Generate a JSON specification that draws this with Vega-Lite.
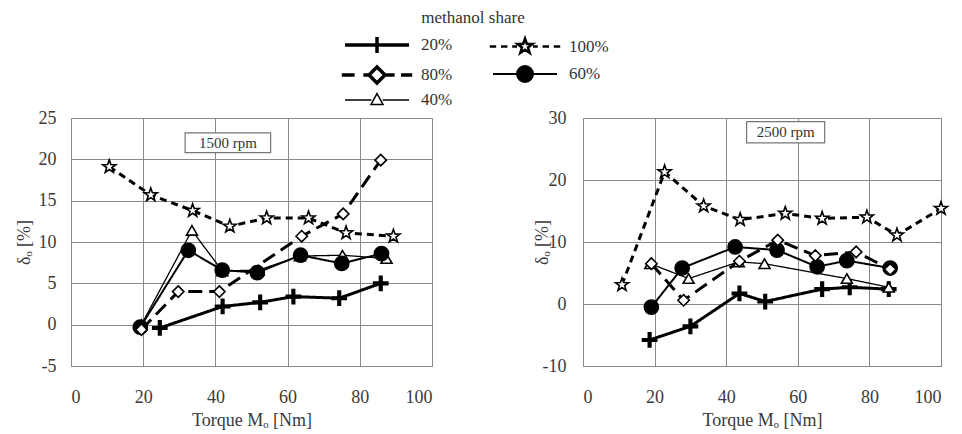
{
  "$schema": "https://vega.github.io/schema/vega-lite/v6.json",
  "autosize": {"type": "pad"},
  "padding": {"left": 14, "top": 9, "right": 0, "bottom": 0},
  "background": "white",
  "bounds": "flush",
  "spacing": 151,
  "config": {
    "font": "Liberation Serif",
    "view": {"stroke": "#888888", "strokeWidth": 1},
    "axis": {
      "labelFont": "Liberation Serif",
      "titleFont": "Liberation Serif",
      "labelFontSize": 18,
      "titleFontSize": 18,
      "labelColor": "#3a3a3a",
      "titleColor": "#3a3a3a",
      "titleFontWeight": "normal",
      "ticks": false,
      "domain": false,
      "gridColor": "#888888",
      "gridOpacity": 1,
      "gridWidth": 1
    },
    "legend": {
      "labelFont": "Liberation Serif",
      "titleFont": "Liberation Serif"
    }
  },
  "resolve": {"scale": {"shape": "independent", "fill": "independent", "stroke": "independent", "strokeWidth": "independent", "size": "independent", "strokeDash": "independent"}},
  "datasets": {
    "d1500": [
      {"share": "20%", "torque": 24.6, "delta": -0.4},
      {"share": "20%", "torque": 42.0, "delta": 2.2},
      {"share": "20%", "torque": 52.4, "delta": 2.7},
      {"share": "20%", "torque": 61.6, "delta": 3.4},
      {"share": "20%", "torque": 74.3, "delta": 3.2},
      {"share": "20%", "torque": 85.8, "delta": 5.0},
      {"share": "40%", "torque": 19.5, "delta": 0.0},
      {"share": "40%", "torque": 33.5, "delta": 11.4},
      {"share": "40%", "torque": 41.9, "delta": 6.5},
      {"share": "40%", "torque": 52.0, "delta": 6.6},
      {"share": "40%", "torque": 63.4, "delta": 8.3},
      {"share": "40%", "torque": 75.2, "delta": 8.4},
      {"share": "40%", "torque": 87.4, "delta": 8.0},
      {"share": "60%", "torque": 19.2, "delta": -0.3},
      {"share": "60%", "torque": 32.5, "delta": 9.0},
      {"share": "60%", "torque": 41.9, "delta": 6.6},
      {"share": "60%", "torque": 51.6, "delta": 6.3},
      {"share": "60%", "torque": 63.6, "delta": 8.4},
      {"share": "60%", "torque": 75.0, "delta": 7.4},
      {"share": "60%", "torque": 86.0, "delta": 8.6},
      {"share": "80%", "torque": 19.5, "delta": -0.6},
      {"share": "80%", "torque": 29.7, "delta": 4.0},
      {"share": "80%", "torque": 41.1, "delta": 4.0},
      {"share": "80%", "torque": 63.9, "delta": 10.7},
      {"share": "80%", "torque": 75.4, "delta": 13.4},
      {"share": "80%", "torque": 85.8, "delta": 19.9},
      {"share": "100%", "torque": 10.6, "delta": 19.1},
      {"share": "100%", "torque": 22.1, "delta": 15.7},
      {"share": "100%", "torque": 33.7, "delta": 13.8},
      {"share": "100%", "torque": 44.0, "delta": 11.9},
      {"share": "100%", "torque": 54.2, "delta": 12.9},
      {"share": "100%", "torque": 65.8, "delta": 12.9},
      {"share": "100%", "torque": 76.2, "delta": 11.1},
      {"share": "100%", "torque": 89.3, "delta": 10.7}
    ],
    "d2500": [
      {"share": "20%", "torque": 18.6, "delta": -5.8},
      {"share": "20%", "torque": 30.0, "delta": -3.6},
      {"share": "20%", "torque": 43.7, "delta": 1.7},
      {"share": "20%", "torque": 50.9, "delta": 0.4},
      {"share": "20%", "torque": 66.8, "delta": 2.4},
      {"share": "20%", "torque": 74.5, "delta": 2.7},
      {"share": "20%", "torque": 85.4, "delta": 2.4},
      {"share": "40%", "torque": 18.8, "delta": 6.5},
      {"share": "40%", "torque": 29.5, "delta": 4.1},
      {"share": "40%", "torque": 43.5, "delta": 6.8},
      {"share": "40%", "torque": 50.7, "delta": 6.5},
      {"share": "40%", "torque": 73.7, "delta": 4.1},
      {"share": "40%", "torque": 85.4, "delta": 2.7},
      {"share": "60%", "torque": 19.1, "delta": -0.5},
      {"share": "60%", "torque": 27.7, "delta": 5.8},
      {"share": "60%", "torque": 42.5, "delta": 9.2},
      {"share": "60%", "torque": 54.2, "delta": 8.7},
      {"share": "60%", "torque": 65.4, "delta": 6.0},
      {"share": "60%", "torque": 73.7, "delta": 7.0},
      {"share": "60%", "torque": 85.8, "delta": 5.8},
      {"share": "80%", "torque": 19.1, "delta": 6.5},
      {"share": "80%", "torque": 28.1, "delta": 0.6},
      {"share": "80%", "torque": 43.7, "delta": 6.9},
      {"share": "80%", "torque": 54.4, "delta": 10.3},
      {"share": "80%", "torque": 64.9, "delta": 7.8},
      {"share": "80%", "torque": 76.3, "delta": 8.4},
      {"share": "80%", "torque": 85.8, "delta": 5.6},
      {"share": "100%", "torque": 10.9, "delta": 3.1},
      {"share": "100%", "torque": 22.8, "delta": 21.3},
      {"share": "100%", "torque": 33.7, "delta": 15.8},
      {"share": "100%", "torque": 43.9, "delta": 13.6},
      {"share": "100%", "torque": 56.5, "delta": 14.6},
      {"share": "100%", "torque": 66.8, "delta": 13.8},
      {"share": "100%", "torque": 79.3, "delta": 14.0},
      {"share": "100%", "torque": 87.7, "delta": 11.1},
      {"share": "100%", "torque": 100.0, "delta": 15.4}
    ]
  },
  "hconcat": [
    {
      "width": 361,
      "height": 248,
      "resolve": {"scale": {"shape": "independent", "fill": "independent", "stroke": "independent", "strokeWidth": "independent", "size": "independent", "strokeDash": "independent"}},
      "layer": [
        {
          "data": {"values": [{"x1": 31.6, "x2": 55.3, "y1": 20.8, "y2": 23.2}]},
          "mark": {"type": "rect", "fill": "white", "stroke": "#777777", "strokeWidth": 1.2},
          "encoding": {
            "x": {"field": "x1", "type": "quantitative", "scale": {"domain": [0, 100], "nice": false}},
            "x2": {"field": "x2"},
            "y": {"field": "y1", "type": "quantitative", "scale": {"domain": [-5, 25], "nice": false}},
            "y2": {"field": "y2"}
          }
        },
        {
          "data": {"values": [{"x": 43.45, "y": 22.0, "label": "1500 rpm"}]},
          "mark": {"type": "text", "font": "Liberation Serif", "fontSize": 15, "color": "#333333", "baseline": "middle", "align": "center"},
          "encoding": {
            "x": {"field": "x", "type": "quantitative"},
            "y": {"field": "y", "type": "quantitative"},
            "text": {"field": "label"}
          }
        },
        {
          "data": {"name": "d1500"},
          "mark": {"type": "line", "color": "black", "strokeCap": "butt"},
          "encoding": {
            "x": {
              "field": "torque", "type": "quantitative",
              "scale": {"domain": [0, 100], "nice": false},
              "axis": {"values": [0, 10, 20, 30, 40, 50, 60, 70, 80, 90, 100], "labelExpr": "datum.value % 20 == 0 ? datum.label : ''", "labelPadding": 22, "title": "Torque  Mₒ [Nm]", "titlePadding": 5, "grid": true}
            },
            "y": {
              "field": "delta", "type": "quantitative",
              "scale": {"domain": [-5, 25], "nice": false},
              "axis": {"values": [-5, -2.5, 0, 2.5, 5, 7.5, 10, 12.5, 15, 17.5, 20, 22.5, 25], "labelExpr": "datum.value % 5 == 0 ? '' + datum.value : ''", "labelPadding": 15, "title": "δₒ [%]", "titlePadding": 5, "grid": true}
            },
            "detail": {"field": "share", "type": "nominal"},
            "strokeDash": {
              "field": "share", "type": "nominal",
              "scale": {"domain": ["20%", "40%", "60%", "80%", "100%"], "range": [[1, 0], [1, 0], [1, 0], [14, 7], [7, 5]]},
              "legend": null
            },
            "strokeWidth": {
              "field": "share", "type": "nominal",
              "scale": {"type": "ordinal", "domain": ["20%", "40%", "60%", "80%", "100%"], "range": [3, 1.3, 2, 3, 3]},
              "legend": null
            }
          }
        },
        {
          "data": {"name": "d1500"},
          "mark": {"type": "point", "filled": true, "stroke": "black", "strokeWidth": 1.6, "opacity": 1},
          "encoding": {
            "x": {"field": "torque", "type": "quantitative"},
            "y": {"field": "delta", "type": "quantitative"},
            "shape": {
              "field": "share", "type": "nominal",
              "scale": {"domain": ["20%", "40%", "60%", "80%", "100%"], "range": ["M-1,-0.18H-0.18V-1H0.18V-0.18H1V0.18H0.18V1H-0.18V0.18H-1Z", "triangle-up", "circle", "diamond", "M0,-1L0.235,-0.324L0.951,-0.309L0.38,0.124L0.588,0.809L0,0.4L-0.588,0.809L-0.38,0.124L-0.951,-0.309L-0.235,-0.324Z"]},
              "legend": null
            },
            "fill": {
              "field": "share", "type": "nominal",
              "scale": {"domain": ["20%", "40%", "60%", "80%", "100%"], "range": ["black", "white", "black", "white", "white"]},
              "legend": null
            },
            "size": {
              "field": "share", "type": "nominal",
              "scale": {"type": "ordinal", "domain": ["20%", "40%", "60%", "80%", "100%"], "range": [200, 120, 200, 130, 190]},
              "legend": null
            }
          }
        },
        {
          "data": {"values": []},
          "mark": {"type": "point", "filled": false, "stroke": "black", "color": "black"},
          "encoding": {
            "shape": {
              "field": "share", "type": "nominal",
              "scale": {"domain": ["20%", "80%", "40%", "100%", "60%"], "range": [
                "M-4,0H4M0,-1V1",
                "M-4.4,0H-2.8M-1.7,0H-1M1,0H2.2M3,0H4.4M0,-1L1,0L0,1L-1,0Z",
                "M-4,0H-0.7M0.7,0H4M0,-0.8L0.75,0.55L-0.75,0.55Z",
                "M-4.4,0H-3.6M-3,0H-2.2M-1.6,0H-1M1,0H1.6M2.2,0H3M3.6,0H4.4M0,-1L0.235,-0.324L0.951,-0.309L0.38,0.124L0.588,0.809L0,0.4L-0.588,0.809L-0.38,0.124L-0.951,-0.309L-0.235,-0.324Z",
                "M-4,0H-1M1,0H4M1,0A1,1 0 1,1 -1,0A1,1 0 1,1 1,0Z"
              ]},
              "legend": {
                "orient": "none", "legendX": 266, "legendY": -108,
                "title": "methanol share", "titleFontSize": 17, "titleFontWeight": "normal", "titleColor": "#333333",
                "titleAnchor": "middle", "titleAlign": "center", "titlePadding": 8,
                "columns": 2, "columnPadding": 31, "rowPadding": 0,
                "labelFontSize": 17, "labelColor": "#333333",
                "symbolSize": 256, "symbolOffset": 30, "labelOffset": 34,
                "symbolOpacity": 1, "symbolStrokeColor": "black"
              }
            },
            "fill": {
              "field": "share", "type": "nominal",
              "scale": {"domain": ["20%", "80%", "40%", "100%", "60%"], "range": ["black", "white", "white", "white", "black"]},
              "legend": {
                "orient": "none", "legendX": 266, "legendY": -108,
                "title": "methanol share", "titleFontSize": 17, "titleFontWeight": "normal", "titleColor": "#333333",
                "titleAnchor": "middle", "titleAlign": "center", "titlePadding": 8,
                "columns": 2, "columnPadding": 31, "rowPadding": 0,
                "labelFontSize": 17, "labelColor": "#333333",
                "symbolSize": 256, "symbolOffset": 30, "labelOffset": 34,
                "symbolOpacity": 1, "symbolStrokeColor": "black"
              }
            },
            "stroke": {
              "field": "share", "type": "nominal",
              "scale": {"domain": ["20%", "80%", "40%", "100%", "60%"], "range": ["black", "black", "black", "black", "black"]},
              "legend": {
                "orient": "none", "legendX": 266, "legendY": -108,
                "title": "methanol share", "titleFontSize": 17, "titleFontWeight": "normal", "titleColor": "#333333",
                "titleAnchor": "middle", "titleAlign": "center", "titlePadding": 8,
                "columns": 2, "columnPadding": 31, "rowPadding": 0,
                "labelFontSize": 17, "labelColor": "#333333",
                "symbolSize": 256, "symbolOffset": 30, "labelOffset": 34,
                "symbolOpacity": 1, "symbolStrokeColor": "black"
              }
            },
            "strokeWidth": {
              "field": "share", "type": "nominal",
              "scale": {"type": "ordinal", "domain": ["20%", "80%", "40%", "100%", "60%"], "range": [3.5, 3.5, 1.5, 2.5, 2]},
              "legend": {
                "orient": "none", "legendX": 266, "legendY": -108,
                "title": "methanol share", "titleFontSize": 17, "titleFontWeight": "normal", "titleColor": "#333333",
                "titleAnchor": "middle", "titleAlign": "center", "titlePadding": 8,
                "columns": 2, "columnPadding": 31, "rowPadding": 0,
                "labelFontSize": 17, "labelColor": "#333333",
                "symbolSize": 256, "symbolOffset": 30, "labelOffset": 34,
                "symbolOpacity": 1, "symbolStrokeColor": "black"
              }
            }
          }
        }
      ]
    },
    {
      "width": 358,
      "height": 248,
      "layer": [
        {
          "data": {"values": [{"x1": 45.7, "x2": 67.5, "y1": 26.0, "y2": 29.4}]},
          "mark": {"type": "rect", "fill": "white", "stroke": "#777777", "strokeWidth": 1.2},
          "encoding": {
            "x": {"field": "x1", "type": "quantitative", "scale": {"domain": [0, 100], "nice": false}},
            "x2": {"field": "x2"},
            "y": {"field": "y1", "type": "quantitative", "scale": {"domain": [-10, 30], "nice": false}},
            "y2": {"field": "y2"}
          }
        },
        {
          "data": {"values": [{"x": 56.6, "y": 27.7, "label": "2500 rpm"}]},
          "mark": {"type": "text", "font": "Liberation Serif", "fontSize": 15, "color": "#333333", "baseline": "middle", "align": "center"},
          "encoding": {
            "x": {"field": "x", "type": "quantitative"},
            "y": {"field": "y", "type": "quantitative"},
            "text": {"field": "label"}
          }
        },
        {
          "data": {"name": "d2500"},
          "mark": {"type": "line", "color": "black", "strokeCap": "butt"},
          "encoding": {
            "x": {
              "field": "torque", "type": "quantitative",
              "scale": {"domain": [0, 100], "nice": false},
              "axis": {"values": [0, 10, 20, 30, 40, 50, 60, 70, 80, 90, 100], "labelExpr": "datum.value % 20 == 0 ? datum.label : ''", "labelPadding": 22, "title": "Torque  Mₒ [Nm]", "titlePadding": 5, "grid": true}
            },
            "y": {
              "field": "delta", "type": "quantitative",
              "scale": {"domain": [-10, 30], "nice": false},
              "axis": {"values": [-10, -5, 0, 5, 10, 15, 20, 25, 30], "labelExpr": "datum.value % 10 == 0 ? '' + datum.value : ''", "labelPadding": 17, "title": "δₒ [%]", "titlePadding": -9, "grid": true}
            },
            "detail": {"field": "share", "type": "nominal"},
            "strokeDash": {
              "field": "share", "type": "nominal",
              "scale": {"domain": ["20%", "40%", "60%", "80%", "100%"], "range": [[1, 0], [1, 0], [1, 0], [14, 7], [7, 5]]},
              "legend": null
            },
            "strokeWidth": {
              "field": "share", "type": "nominal",
              "scale": {"type": "ordinal", "domain": ["20%", "40%", "60%", "80%", "100%"], "range": [3, 1.3, 2, 3, 3]},
              "legend": null
            }
          }
        },
        {
          "data": {"name": "d2500"},
          "mark": {"type": "point", "filled": true, "stroke": "black", "strokeWidth": 1.6, "opacity": 1},
          "encoding": {
            "x": {"field": "torque", "type": "quantitative"},
            "y": {"field": "delta", "type": "quantitative"},
            "shape": {
              "field": "share", "type": "nominal",
              "scale": {"domain": ["20%", "40%", "60%", "80%", "100%"], "range": ["M-1,-0.18H-0.18V-1H0.18V-0.18H1V0.18H0.18V1H-0.18V0.18H-1Z", "triangle-up", "circle", "diamond", "M0,-1L0.235,-0.324L0.951,-0.309L0.38,0.124L0.588,0.809L0,0.4L-0.588,0.809L-0.38,0.124L-0.951,-0.309L-0.235,-0.324Z"]},
              "legend": null
            },
            "fill": {
              "field": "share", "type": "nominal",
              "scale": {"domain": ["20%", "40%", "60%", "80%", "100%"], "range": ["black", "white", "black", "white", "white"]},
              "legend": null
            },
            "size": {
              "field": "share", "type": "nominal",
              "scale": {"type": "ordinal", "domain": ["20%", "40%", "60%", "80%", "100%"], "range": [200, 120, 200, 130, 190]},
              "legend": null
            }
          }
        }
      ]
    }
  ]
}
